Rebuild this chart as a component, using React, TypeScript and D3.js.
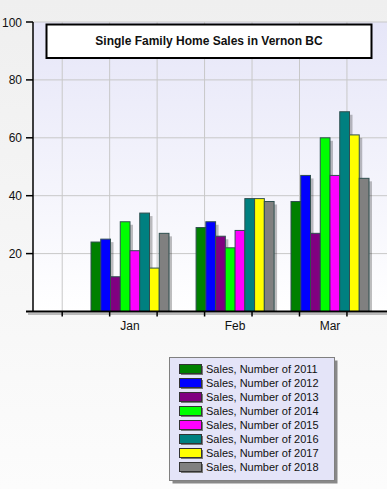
import * as d3 from "d3";
import React from "react";

const months = ["Jan", "Feb", "Mar"];
const monthDates = [Date.UTC(2018, 0, 1), Date.UTC(2018, 1, 1), Date.UTC(2018, 2, 1)];
const years = ["2011", "2012", "2013", "2014", "2015", "2016", "2017", "2018"];
const yearColors = ["#008000", "#0000ff", "#800080", "#00ff00", "#ff00ff", "#008080", "#ffff00", "#808080"];

// sales per year, one entry per month (Jan, Feb, Mar)
const sales2011 = [24, 29, 38];
const sales2012 = [25, 31, 47];
const sales2013 = [12, 26, 27];
const sales2014 = [31, 22, 60];
const sales2015 = [21, 28, 47];
const sales2016 = [34, 39, 69];
const sales2017 = [15, 39, 61];
const sales2018 = [27, 38, 46];
const salesByYear = [sales2011, sales2012, sales2013, sales2014, sales2015, sales2016, sales2017, sales2018];

const yTicks = [20, 40, 60, 80, 100];
const title = "Single Family Home Sales in Vernon BC";

const W = 387;
const H = 489;
const font = "'Liberation Sans', Arial, sans-serif";

const App: React.FC = () => {
  const left = 33;
  const top = 22;
  const bottom = 311.5;

  const y = d3.scaleLinear().domain([0, 100]).range([bottom, top]);
  const x = d3
    .scaleUtc()
    .domain([monthDates[0], monthDates[2]])
    .range([130, 330]);

  // gridlines every 14 days
  const gridStart = new Date(Date.UTC(2017, 11, 12));
  const gridDates = d3.range(7).map((i) => d3.utcDay.offset(gridStart, i * 14));

  const inner = d3.scaleBand().domain(years).range([-39, 39]);
  const bw = inner.bandwidth();

  return (
    <svg width={W} height={H} style={{ position: "absolute", left: 0, top: 0 }}>
      <defs>
        <linearGradient id="page" x1="0" y1="0" x2="0" y2="1">
          <stop offset="0" stopColor="#efefef" />
          <stop offset="1" stopColor="#fcfcfc" />
        </linearGradient>
        <linearGradient id="plot" x1="0" y1="0" x2="0" y2="1">
          <stop offset="0" stopColor="#e6e6f8" />
          <stop offset="1" stopColor="#ffffff" />
        </linearGradient>
      </defs>
      <rect x={0} y={0} width={W} height={H} fill="url(#page)" />
      <rect x={left} y={top} width={W - left} height={bottom - top} fill="url(#plot)" />

      {/* grid */}
      {yTicks.map((t) => (
        <line key={t} x1={left} x2={W} y1={y(t)} y2={y(t)} stroke="#c8c8c8" strokeWidth={1} />
      ))}
      {gridDates.map((d, i) => (
        <line key={i} x1={x(d)} x2={x(d)} y1={top} y2={bottom} stroke="#c8c8c8" strokeWidth={1} />
      ))}

      {/* bars */}
      {months.map((m, mi) =>
        years.map((yr, yi) => {
          const v = salesByYear[yi][mi];
          const bx = x(monthDates[mi]) + (inner(yr) as number);
          const by = y(v);
          return (
            <g key={m + yr}>
              <rect x={bx + 3} y={by + 3} width={bw} height={bottom - by - 3} fill="#000" opacity={0.25} />
              <rect x={bx} y={by} width={bw} height={bottom - by} fill={yearColors[yi]} stroke="#2f4f4f" strokeWidth={1} />
            </g>
          );
        })
      )}

      {/* x axis */}
      <line x1={28} x2={W} y1={bottom + 2.5} y2={bottom + 2.5} stroke="#bbb" strokeWidth={2} />
      <line x1={26} x2={W} y1={bottom} y2={bottom} stroke="#000" strokeWidth={2} />
      {gridDates.map((d, i) => (
        <line key={i} x1={x(d)} x2={x(d)} y1={bottom} y2={bottom + 5} stroke="#000" strokeWidth={1.5} />
      ))}
      {months.map((m, mi) => (
        <text key={m} x={x(monthDates[mi])} y={bottom + 18} textAnchor="middle" fontFamily={font} fontSize={12} fill="#111">
          {m}
        </text>
      ))}

      {/* y axis */}
      <line x1={left} x2={left} y1={top} y2={bottom} stroke="#000" strokeWidth={1.5} />
      {yTicks.map((t) => (
        <g key={t}>
          <line x1={left - 7} x2={left} y1={y(t)} y2={y(t)} stroke="#000" strokeWidth={1.5} />
          <text x={22} y={y(t) + 4.5} textAnchor="end" fontFamily={font} fontSize={12} fill="#111">
            {t}
          </text>
        </g>
      ))}

      {/* title */}
      <rect x={46.5} y={24.5} width={325} height={33.5} fill="#fff" stroke="#000" strokeWidth={2} />
      <text x={209} y={45} textAnchor="middle" fontFamily={font} fontSize={12} fontWeight="bold" fill="#111">
        {title}
      </text>

      {/* legend */}
      <rect x={172.5} y={360.5} width={165} height={123} fill="#888" />
      <rect x={169.5} y={357.5} width={165} height={123} fill="#e4e4f8" stroke="#808080" strokeWidth={1} />
      {years.map((yr, i) => {
        const cy = 369 + i * 14;
        return (
          <g key={yr}>
            <rect x={181} y={cy - 3} width={22} height={9} fill="#777" />
            <rect x={179.5} y={cy - 4.5} width={22} height={9} fill={yearColors[i]} stroke="#333" strokeWidth={1} />
            <text x={206} y={cy + 4} fontFamily={font} fontSize={11} fill="#111">
              {`Sales, Number of ${yr}`}
            </text>
          </g>
        );
      })}
    </svg>
  );
};

export default App;
